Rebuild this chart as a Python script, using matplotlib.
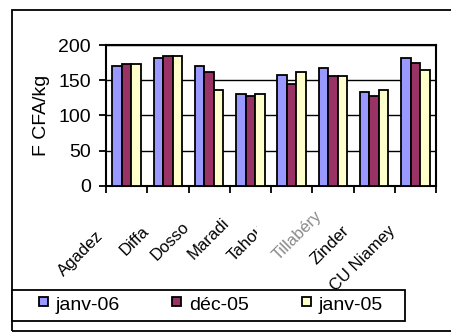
import matplotlib
matplotlib.use("Agg")
import matplotlib.pyplot as plt
from matplotlib.patches import Rectangle
from matplotlib.transforms import ScaledTranslation

plt.rcParams['font.family'] = ['Liberation Sans', 'DejaVu Sans']

regions = ["Agadez", "Diffa", "Dosso", "Maradi", "Tahoua", "Tillabéry", "Zinder", "CU Niamey"]
series_names = ["janv-06", "déc-05", "janv-05"]
janv06 = [170, 181, 170, 130, 158, 167, 133, 181]
dec05 = [173, 184, 161, 127, 144, 156, 127, 175]
janv05 = [173, 184, 136, 130, 161, 156, 136, 164]
series_values = [janv06, dec05, janv05]
colors = ["#9999FF", "#993366", "#FFFFCC"]
yticks = [0, 50, 100, 150, 200]

W, H, DPI = 451, 333, 100
fig = plt.figure(figsize=(W / DPI, H / DPI), dpi=DPI)

def fx(px):
    return px / W

def fy(py):
    return 1 - py / H

# outer chart frame
fig.patches.append(Rectangle((fx(12), fy(331)), 1.2, fy(10) - fy(331),
                             transform=fig.transFigure, fill=False,
                             edgecolor="black", linewidth=1.3))

ax = fig.add_axes([fx(106), fy(186), fx(436) - fx(106), fy(45) - fy(186)])

bw = 0.23
n = len(series_values)
for k, (vals, col, name) in enumerate(zip(series_values, colors, series_names)):
    xs = [i + (k - (n - 1) / 2) * bw for i in range(len(regions))]
    ax.bar(xs, vals, width=bw, color=col, edgecolor="black", linewidth=1.3,
           zorder=3, label=name)

ax.set_xlim(-0.5, len(regions) - 0.5)
ax.set_ylim(0, 200)
ax.set_yticks(yticks)
ax.set_yticklabels([str(v) for v in yticks], fontsize=14)
ax.yaxis.grid(True, color="black", linewidth=1.0, zorder=0)
ax.set_xticks([i - 0.5 for i in range(len(regions) + 1)])
ax.set_xticklabels([])
ax.tick_params(axis="both", direction="out", length=5, width=1.3, color="black")
ax.tick_params(axis="y", pad=6)
for s in ax.spines.values():
    s.set_linewidth(1.5)
    s.set_color("black")
ax.set_ylabel("F CFA/kg", fontsize=14, labelpad=6)

# rotated category labels
offsets = [(-21, 42), (-16, 37), (-17, 33), (-18, 29), (-17, 29), (-8, 22), (-22, 37), (-17, 37)]
for i, (lab, (dx, dy)) in enumerate(zip(regions, offsets)):
    tr = ax.get_xaxis_transform() + ScaledTranslation(dx / DPI, -dy / DPI, fig.dpi_scale_trans)
    if lab == "Tillabéry":
        ax.text(i, 0, lab, transform=tr, rotation=45, ha="right", va="top",
                fontsize=12, color="#8a8a8a", zorder=7, clip_on=False)
    else:
        ax.text(i, 0, lab, transform=tr, rotation=45, ha="right", va="top",
                fontsize=12, color="black",
                zorder=8 if lab == "Zinder" else 5, clip_on=False)

# white backing under the faded Tillabéry label
ax.add_patch(Rectangle((fx(257), fy(276)), fx(322) - fx(257), fy(205) - fy(276),
                       transform=fig.transFigure, facecolor="white",
                       edgecolor="none", zorder=6, clip_on=False))

# legend box
fig.patches.append(Rectangle((fx(12), fy(321)), fx(405) - fx(12), fy(290) - fy(321),
                             transform=fig.transFigure, fill=True, facecolor="white",
                             edgecolor="black", linewidth=1.3, zorder=4))
key_x = [39, 172, 302]
for name, col, kx in zip(series_names, colors, key_x):
    fig.patches.append(Rectangle((fx(kx), fy(306)), fx(9), fy(297) - fy(306),
                                 transform=fig.transFigure, facecolor=col,
                                 edgecolor="black", linewidth=1.3, zorder=5))
    fig.text(fx(kx + 17), fy(305.5), name, fontsize=14, ha="left", va="center", zorder=5)

fig.savefig("out.png", dpi=DPI)
